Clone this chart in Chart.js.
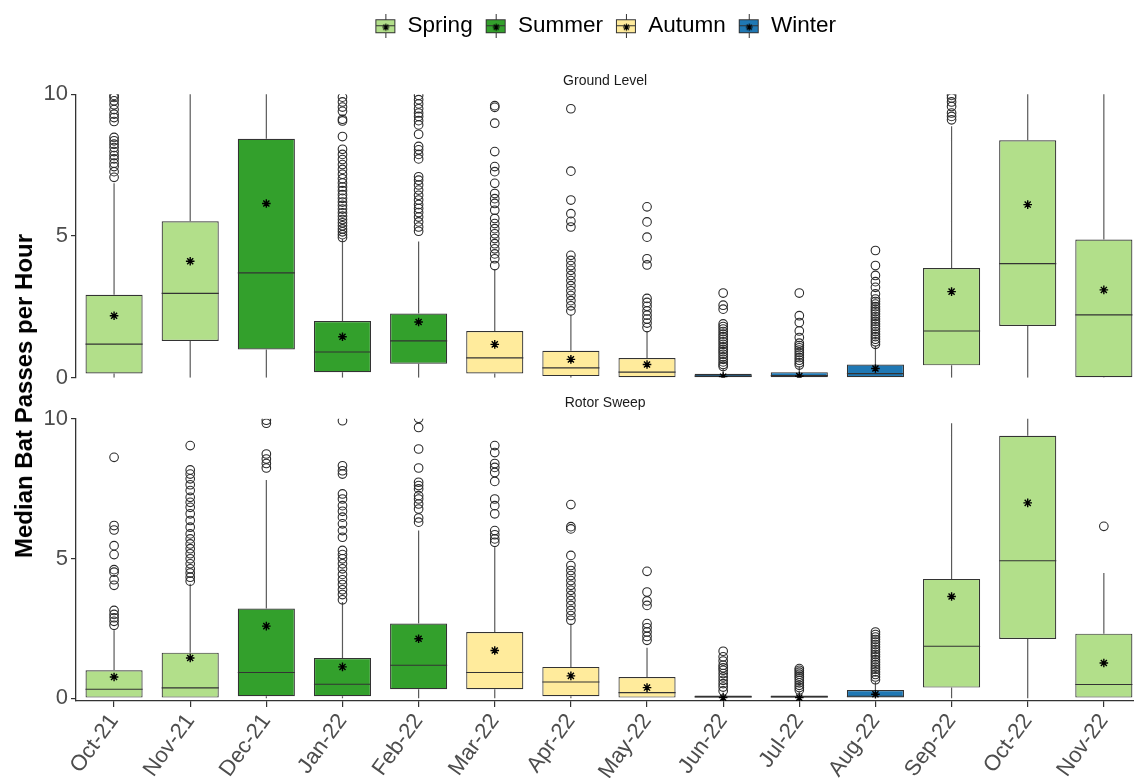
<!DOCTYPE html>
<html>
<head>
<meta charset="utf-8">
<script src="https://cdn.jsdelivr.net/npm/chart.js@4.4.1/dist/chart.umd.min.js"></script>
<style>
  html, body { margin: 0; padding: 0; background: #fff; }
  #wrap { position: relative; width: 1134px; height: 778px; overflow: hidden; }
  canvas { position: absolute; left: 0; }
  #cvTop { top: 0; }
  #cvBottom { top: 378px; }
  #yTitle {
    position: absolute; left: 24px; top: 396px;
    transform: translate(-50%, -50%) rotate(-90deg);
    font: bold 24px 'Liberation Sans', Arial, sans-serif;
    white-space: nowrap; color: #000;
  }
</style>
</head>
<body>
<div id="wrap">
  <canvas id="cvTop" width="1140" height="394"></canvas>
  <canvas id="cvBottom" width="1140" height="400"></canvas>
  <div id="yTitle">Median Bat Passes per Hour</div>
</div>
<script>
(() => {
  // ── Data ──
  const months = ['Oct-21', 'Nov-21', 'Dec-21', 'Jan-22', 'Feb-22', 'Mar-22', 'Apr-22',
                  'May-22', 'Jun-22', 'Jul-22', 'Aug-22', 'Sep-22', 'Oct-22', 'Nov-22'];
  const monthSeason = ['Spring', 'Spring', 'Summer', 'Summer', 'Summer', 'Autumn', 'Autumn',
                       'Autumn', 'Winter', 'Winter', 'Winter', 'Spring', 'Spring', 'Spring'];
  const seasons = ['Spring', 'Summer', 'Autumn', 'Winter'];
  const yTicks = [0, 5, 10];

  // Ground Level
  const groundLow  = [0, 0, 0, 0, 0, 0, 0, 0, 0, 0, 0, 0, 0, 0];
  const groundQ1   = [0.15, 1.30, 1.00, 0.20, 0.50, 0.15, 0.06, 0.00, 0.00, 0.00, 0.00, 0.44, 1.83, 0.02];
  const groundMed  = [1.19, 2.98, 3.70, 0.91, 1.30, 0.70, 0.35, 0.20, 0.06, 0.08, 0.15, 1.65, 4.03, 2.22];
  const groundQ3   = [2.93, 5.52, 8.43, 2.00, 2.27, 1.65, 0.95, 0.70, 0.14, 0.20, 0.47, 3.87, 8.38, 4.88];
  const groundHigh = [6.86, 11.5, 11.5, 4.90, 4.81, 3.84, 2.22, 1.65, 0.35, 0.41, 1.12, 8.87, 11.5, 11.5];
  const groundMean = [2.19, 4.11, 6.15, 1.45, 1.97, 1.18, 0.65, 0.47, 0.04, 0.06, 0.33, 3.04, 6.11, 3.10];
  const groundOut = [
    [7.07, 7.27, 7.45, 7.57, 7.72, 7.84, 7.98, 8.12, 8.24, 8.36, 8.48, 9.04, 9.18, 9.30, 9.46, 9.63, 9.77, 9.89, 9.96],
    [],
    [],
    [4.95, 5.05, 5.15, 5.25, 5.36, 5.47, 5.58, 5.70, 5.82, 5.95, 6.08, 6.20, 6.33, 6.46, 6.60, 6.73, 6.87, 7.02,
     7.18, 7.35, 7.52, 7.70, 7.88, 8.06, 8.51, 9.06, 9.12, 9.40, 9.55, 9.73, 9.90],
    [5.17, 5.32, 5.50, 5.67, 5.83, 5.97, 6.11, 6.27, 6.44, 6.62, 6.80, 6.97, 7.09, 7.72, 7.88, 8.04, 8.16, 8.59,
     8.92, 9.07, 9.22, 9.34, 9.49, 9.66, 9.81, 9.96],
    [3.96, 4.20, 4.37, 4.55, 4.73, 4.91, 5.08, 5.26, 5.44, 5.62, 5.91, 6.15, 6.32, 6.50, 6.86, 7.27, 7.45, 7.98,
     8.98, 9.54, 9.60],
    [2.36, 2.54, 2.72, 2.90, 3.07, 3.25, 3.43, 3.61, 3.79, 3.96, 4.14, 4.32, 5.32, 5.52, 5.79, 6.27, 7.29, 9.49],
    [1.77, 1.93, 2.07, 2.21, 2.36, 2.52, 2.66, 2.80, 3.98, 4.20, 4.96, 5.50, 6.03],
    [0.40, 0.47, 0.56, 0.65, 0.74, 0.83, 0.92, 1.00, 1.09, 1.18, 1.27, 1.36, 1.45, 1.54, 1.63, 1.72, 1.81, 1.90,
     2.42, 2.56, 2.99],
    [0.45, 0.53, 0.62, 0.71, 0.80, 0.89, 0.98, 1.06, 1.14, 1.22, 1.42, 1.65, 1.95, 2.19, 2.99],
    [1.18, 1.27, 1.36, 1.45, 1.54, 1.63, 1.72, 1.81, 1.90, 1.99, 2.07, 2.16, 2.25, 2.34, 2.42, 2.51, 2.60, 2.69,
     2.78, 2.96, 3.19, 3.39, 3.61, 3.96, 4.49],
    [9.10, 9.22, 9.34, 9.57, 9.73, 9.87, 9.96],
    [],
    [],
  ];

  // Rotor Sweep
  const rotorLow  = [0, 0, 0, 0, 0, 0, 0, 0, 0, 0, 0, 0, 0, 0];
  const rotorQ1   = [0.00, 0.00, 0.07, 0.07, 0.32, 0.32, 0.07, 0.00, 0.00, 0.00, 0.00, 0.38, 2.12, 0.00];
  const rotorMed  = [0.32, 0.37, 0.92, 0.50, 1.18, 0.92, 0.58, 0.20, 0.05, 0.05, 0.07, 1.86, 4.92, 0.49];
  const rotorQ3   = [1.00, 1.63, 3.21, 1.44, 2.67, 2.37, 1.12, 0.76, 0.10, 0.10, 0.29, 4.27, 9.39, 2.31];
  const rotorHigh = [2.43, 4.10, 7.81, 3.44, 6.00, 5.40, 2.67, 1.81, 0.20, 0.22, 0.58, 9.84, 11.5, 4.48];
  const rotorMean = [0.76, 1.44, 2.58, 1.12, 2.13, 1.71, 0.80, 0.38, 0.02, 0.02, 0.14, 3.64, 6.99, 1.26];
  const rotorOut = [
    [2.61, 2.75, 2.88, 3.00, 3.14, 4.04, 4.24, 4.51, 4.60, 5.14, 5.46, 6.02, 6.18, 8.62],
    [4.19, 4.33, 4.48, 4.63, 4.81, 4.99, 5.17, 5.35, 5.52, 5.70, 5.88, 6.12, 6.36, 6.60, 6.83, 7.01, 7.19, 7.43,
     7.64, 7.85, 8.02, 8.17, 9.04],
    [8.24, 8.40, 8.56, 8.74, 9.84, 9.95],
    [3.52, 3.71, 3.88, 4.07, 4.24, 4.43, 4.63, 4.81, 4.99, 5.14, 5.29, 5.76, 6.00, 6.24, 6.48, 6.69, 6.89, 7.13,
     7.31, 8.02, 8.14, 8.32, 9.93],
    [6.30, 6.45, 6.77, 6.95, 7.13, 7.25, 7.49, 7.61, 7.73, 8.24, 8.92, 9.69, 10.02],
    [5.58, 5.70, 5.85, 6.00, 6.60, 6.89, 7.13, 7.76, 8.08, 8.26, 8.40, 8.79, 9.04],
    [2.79, 2.96, 3.14, 3.32, 3.50, 3.68, 3.86, 4.04, 4.21, 4.39, 4.57, 4.75, 5.11, 6.06, 6.14, 6.93],
    [2.07, 2.21, 2.37, 2.52, 2.67, 3.32, 3.48, 3.80, 4.54],
    [0.26, 0.40, 0.52, 0.64, 0.76, 0.88, 1.00, 1.09, 1.18, 1.33, 1.48, 1.68],
    [0.29, 0.38, 0.46, 0.55, 0.64, 0.72, 0.79, 0.86, 0.93, 1.00, 1.06],
    [0.66, 0.76, 0.85, 0.94, 1.03, 1.11, 1.20, 1.29, 1.38, 1.48, 1.56, 1.65, 1.74, 1.83, 1.92, 2.01, 2.10, 2.19,
     2.28, 2.37],
    [],
    [],
    [6.15],
  ];

  // ── Styles ──
  const SEASON_COLORS = {
    Spring: '#b2df8a',
    Summer: '#33a02c',
    Autumn: '#ffeb9c',
    Winter: '#1f78b4',
  };
  const LINE = '#333333';
  const WHISKER = '#5a5a5a';
  const TICK_TEXT = '#4d4d4d';
  const HALF_BOX = 0.375;

  Chart.defaults.font.family = "'Liberation Sans', Arial, sans-serif";
  Chart.defaults.animation = false;

  // ── Legend glyph: a tiny boxplot with the mean star ──
  function makeIcon(fill) {
    const c = document.createElement('canvas');
    c.width = 22; c.height = 24;
    const g = c.getContext('2d');
    g.strokeStyle = LINE; g.lineWidth = 1;
    g.beginPath(); g.moveTo(11.5, 0); g.lineTo(11.5, 24); g.stroke();
    g.fillStyle = fill;
    g.fillRect(1.5, 5.5, 19, 13);
    g.strokeRect(1.5, 5.5, 19, 13);
    g.beginPath(); g.moveTo(1.5, 11.5); g.lineTo(20.5, 11.5); g.stroke();
    g.strokeStyle = '#000'; g.lineWidth = 1.2;
    const cx = 11.5, cy = 13, r = 3.5;
    g.beginPath();
    for (let k = 0; k < 4; k++) {
      const a = k * Math.PI / 4;
      g.moveTo(cx - r * Math.cos(a), cy - r * Math.sin(a));
      g.lineTo(cx + r * Math.cos(a), cy + r * Math.sin(a));
    }
    g.stroke();
    return c;
  }
  const icons = seasons.map(s => makeIcon(SEASON_COLORS[s]));

  // ── Box plot datasets for one panel ──
  function boxDatasets(low, q1, med, q3, high, mean, out) {
    return [
      {
        type: 'bar', order: 3,
        data: months.map((m, i) => ({ x: i, y: [q1[i], q3[i]] })),
        backgroundColor: monthSeason.map(s => SEASON_COLORS[s]),
        borderColor: LINE, borderWidth: 1.2, borderSkipped: false,
        barPercentage: 0.75, categoryPercentage: 1,
      },
      {
        type: 'line', order: 2,
        data: months.flatMap((m, i) => [
          { x: i, y: low[i] }, { x: i, y: q1[i] }, { x: i, y: null },
          { x: i, y: q3[i] }, { x: i, y: high[i] }, { x: i, y: null },
        ]),
        borderColor: WHISKER, borderWidth: 1.2, pointRadius: 0, spanGaps: false,
      },
      {
        type: 'line', order: 1,
        data: months.flatMap((m, i) => [
          { x: i - HALF_BOX, y: med[i] }, { x: i + HALF_BOX, y: med[i] }, { x: i, y: null },
        ]),
        borderColor: LINE, borderWidth: 1.2, pointRadius: 0, spanGaps: false,
      },
      {
        type: 'scatter', order: 0,
        data: out.flatMap((vals, i) => vals.map(v => ({ x: i, y: v }))),
        pointStyle: 'circle', pointRadius: 4.3,
        borderColor: '#2b2b2b', borderWidth: 1.1, backgroundColor: 'rgba(0,0,0,0)',
      },
      {
        type: 'scatter', order: 0,
        data: mean.map((v, i) => ({ x: i, y: v })),
        pointStyle: 'star', pointRadius: 4.3,
        borderColor: '#000', borderWidth: 1.4,
      },
    ];
  }

  function yScale(min) {
    return {
      min, max: 10,
      afterBuildTicks: s => { s.ticks = yTicks.map(v => ({ value: v })); },
      afterFit: s => { s.width = 76; },
      ticks: { color: TICK_TEXT, font: { size: 22 }, padding: 3 },
      grid: { drawOnChartArea: false, drawTicks: true, tickLength: 5, color: LINE, lineWidth: 1.2 },
      border: { display: true, color: LINE, width: 1.3 },
    };
  }

  const xBase = { type: 'linear', min: -0.5, max: 13.4, offset: false };

  const stripTitle = (text, top, bottom) => ({
    display: true, text, fullSize: false,
    font: { size: 14, weight: 'normal' }, color: '#1a1a1a',
    padding: { top, bottom },
  });

  // ── Top panel: Ground Level (with legend) ──
  new Chart(document.getElementById('cvTop'), {
    type: 'bar',
    data: { datasets: boxDatasets(groundLow, groundQ1, groundMed, groundQ3, groundHigh, groundMean, groundOut) },
    options: {
      responsive: false,
      events: [],
      layout: { padding: { top: 3, bottom: 2, left: 0, right: 0 } },
      scales: {
        x: { ...xBase, display: false, grid: { offset: false } },
        y: yScale(0),
      },
      plugins: {
        tooltip: { enabled: false },
        title: stripTitle('Ground Level', 25, 5),
        legend: {
          display: true, position: 'top', fullSize: false, weight: 3000,
          labels: {
            usePointStyle: true, boxWidth: 22, padding: 12,
            color: '#000', font: { size: 22.5 },
            generateLabels: () => seasons.map((s, i) => ({
              text: s, pointStyle: icons[i], fillStyle: SEASON_COLORS[s],
              strokeStyle: LINE, lineWidth: 1, hidden: false, datasetIndex: 0,
            })),
          },
        },
      },
    },
  });

  // ── Bottom panel: Rotor Sweep (with month axis) ──
  new Chart(document.getElementById('cvBottom'), {
    type: 'bar',
    data: { datasets: boxDatasets(rotorLow, rotorQ1, rotorMed, rotorQ3, rotorHigh, rotorMean, rotorOut) },
    options: {
      responsive: false,
      events: [],
      layout: { padding: 0 },
      scales: {
        x: {
          ...xBase,
          afterBuildTicks: s => { s.ticks = months.map((m, i) => ({ value: i })); },
          afterFit: s => { s.height = 77; },
          ticks: {
            callback: v => months[v], autoSkip: false,
            minRotation: 54, maxRotation: 54,
            color: TICK_TEXT, font: { size: 22 }, padding: 2,
          },
          grid: { offset: false, drawOnChartArea: false, drawTicks: true, tickLength: 6, color: LINE, lineWidth: 1.2 },
          border: { display: true, color: LINE, width: 1.3 },
        },
        y: yScale(-0.1),
      },
      plugins: {
        tooltip: { enabled: false },
        legend: { display: false },
        title: stripTitle('Rotor Sweep', 17, 7),
      },
    },
  });
})();
</script>
</body>
</html>
